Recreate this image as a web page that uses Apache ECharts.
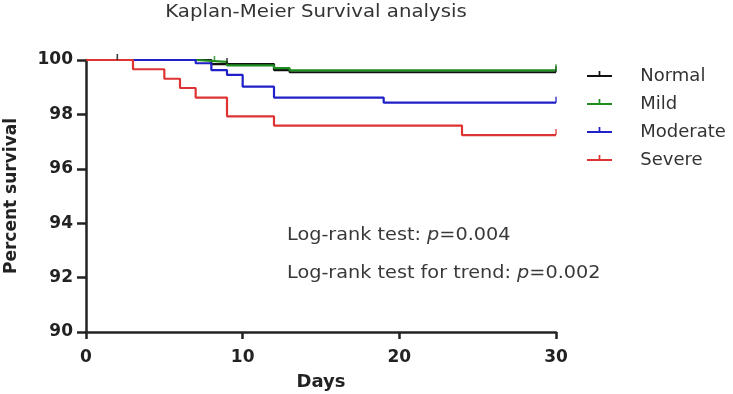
<!DOCTYPE html>
<html><head><meta charset="utf-8">
<script src="https://cdn.jsdelivr.net/npm/echarts@6/dist/echarts.min.js"></script>
<style>html,body{margin:0;padding:0;background:#fff}#c{width:733px;height:394px}</style>
</head><body><div id="c"></div>
<script>
var groups = ['Normal','Mild','Moderate','Severe'];
var colors = ['#111111','#1e8c1e','#2020c8','#dd3333'];
var normalT = [0, 8, 12, 13, 30];
var normalS = [100, 99.85, 99.63, 99.55, 99.55];
var mildT = [0, 7, 9, 12, 13, 30];
var mildS = [100, 99.93, 99.8, 99.7, 99.62, 99.62];
var moderateT = [0, 7, 8, 9, 10, 12, 19, 30];
var moderateS = [100, 99.88, 99.63, 99.45, 99.02, 98.62, 98.43, 98.43];
var severeT = [0, 3, 5, 6, 7, 9, 12, 24, 30];
var severeS = [100, 99.66, 99.31, 98.97, 98.62, 97.93, 97.59, 97.24, 97.24];
var censorNormal = [[2, 100], [9, 99.85], [30, 99.55]];
var censorMild = [[8.2, 99.93], [30, 99.62]];
var censorModerate = [[30, 98.43]];
var censorSevere = [[30, 97.24]];
var xTicks = [0, 10, 20, 30];
var yTicks = [90, 92, 94, 96, 98, 100];
var titleText = 'Kaplan-Meier Survival analysis';
var note1 = 'Log-rank test: {i|p}=0.004';
var note2 = 'Log-rank test for trend: {i|p}=0.002';

function pts(t, s) { return t.map(function (v, i) { return [v, s[i]]; }); }
var curves = [pts(normalT, normalS), pts(mildT, mildS), pts(moderateT, moderateS), pts(severeT, severeS)];
var censors = [censorNormal, censorMild, censorModerate, censorSevere];

var chart = echarts.init(document.getElementById('c'), null, {renderer: 'canvas'});
var legendIcon = 'path://M0,8.6 L35,8.6 L35,11.4 L0,11.4 Z M16.3,3 L18.7,3 L18.7,10 L16.3,10 Z M40,17 L40.01,17 L40,17.01 Z';
var FONT = 'DejaVu Sans';
var series = [];
[0,1,2,3].forEach(function (i) {
  series.push({
    name: groups[i], type: 'line', step: 'end', data: curves[i], symbol: 'none',
    lineStyle: {color: colors[i], width: 2.2}, itemStyle: {color: colors[i]},
    z: i === 0 ? 2 : 3, animation: false
  });
  series.push({
    name: groups[i], type: 'scatter', data: censors[i], symbol: 'rect', symbolSize: [1.6, 6],
    symbolOffset: [0, -3], itemStyle: {color: colors[i]}, z: 4, animation: false
  });
});

function noteStyle(txt) {
  return {
    text: txt, fontFamily: FONT, fontSize: 17.5, fill: '#383838', textVerticalAlign: 'middle',
    rich: {i: {fontStyle: 'italic', fontFamily: FONT, fontSize: 17.5, fill: '#383838'}}
  };
}

chart.setOption({
  backgroundColor: '#fff',
  animation: false,
  legend: {
    data: groups.map(function (g, i) { return {name: g, icon: legendIcon, itemStyle: {color: colors[i]}}; }),
    orient: 'vertical', left: 582, top: 62, itemWidth: 40, itemHeight: 10, itemGap: 10,
    itemStyle: {borderWidth: 0},
    textStyle: {fontFamily: FONT, fontSize: 18, lineHeight: 18, color: '#333', padding: [0, 0, 0, 14]},
    selectedMode: false
  },
  grid: {left: 86, right: 177, top: 60, bottom: 62, containLabel: false, outerBoundsMode: 'none'},
  xAxis: {
    type: 'value', min: 0, max: 30, interval: 10,
    name: 'Days', nameLocation: 'middle', nameGap: 41,
    nameTextStyle: {fontFamily: FONT, fontSize: 18, fontWeight: 'bold', color: '#222'},
    axisLine: {show: true, onZero: false, lineStyle: {color: '#222', width: 2.5}},
    axisTick: {show: true, length: 7, lineStyle: {color: '#222', width: 2.5}},
    axisLabel: {fontFamily: FONT, fontSize: 17, fontWeight: 'bold', color: '#222', margin: 17,
      formatter: function (v) { return xTicks.indexOf(v) >= 0 ? String(v) : ''; }},
    splitLine: {show: false}
  },
  yAxis: {
    type: 'value', min: 90, max: 100, interval: 2,
    name: 'Percent survival', nameLocation: 'middle', nameGap: 66, nameRotate: 90,
    nameTextStyle: {fontFamily: FONT, fontSize: 17, fontWeight: 'bold', color: '#222'},
    axisLine: {show: true, lineStyle: {color: '#222', width: 2.5}},
    axisTick: {show: true, length: 9, lineStyle: {color: '#222', width: 2.5}},
    axisLabel: {fontFamily: FONT, fontSize: 17, fontWeight: 'bold', color: '#222', margin: 13,
      formatter: function (v) { return yTicks.indexOf(v) >= 0 ? String(v) : ''; }},
    splitLine: {show: false}
  },
  graphic: [
    {type: 'text', x: 316, y: 12, scaleX: 1.097, style: {
      text: titleText, fontFamily: FONT, fontSize: 18, fill: '#333',
      textAlign: 'center', textVerticalAlign: 'middle'}},
    {type: 'text', x: 287, y: 235.5, scaleX: 1.1, style: noteStyle(note1)},
    {type: 'text', x: 287, y: 273.5, scaleX: 1.1, style: noteStyle(note2)}
  ],
  series: series
});
</script></body></html>
